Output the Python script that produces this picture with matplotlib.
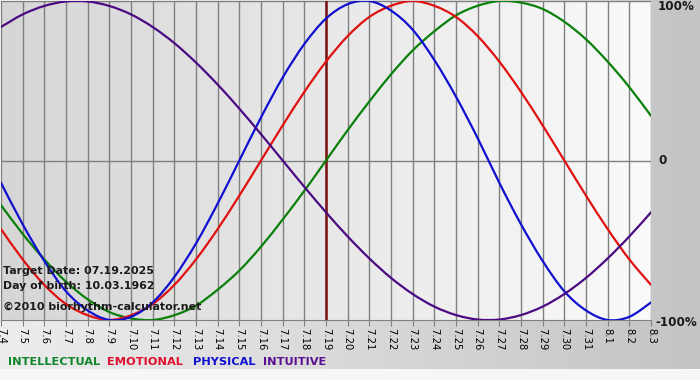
import numpy as np
import matplotlib
matplotlib.use("Agg")
import matplotlib.pyplot as plt
from matplotlib.path import Path
from matplotlib.patches import PathPatch

# ---- data ----
dates = ["7.4", "7.5", "7.6", "7.7", "7.8", "7.9", "7.10", "7.11", "7.12", "7.13",
         "7.14", "7.15", "7.16", "7.17", "7.18", "7.19", "7.20", "7.21", "7.22", "7.23",
         "7.24", "7.25", "7.26", "7.27", "7.28", "7.29", "7.30", "7.31", "8.1", "8.2", "8.3"]
target_date = "7.19"

physical = [-0.14, -0.40, -0.63, -0.82, -0.94, -1.00, -0.98, -0.89, -0.73, -0.52,
            -0.27, 0.00, 0.27, 0.52, 0.73, 0.89, 0.98, 1.00, 0.94, 0.82,
            0.63, 0.40, 0.14, -0.14, -0.40, -0.63, -0.82, -0.94, -1.00, -0.98, -0.89]
emotional = [-0.43, -0.62, -0.78, -0.90, -0.97, -1.00, -0.97, -0.90, -0.78, -0.62,
             -0.43, -0.22, 0.00, 0.22, 0.43, 0.62, 0.78, 0.90, 0.97, 1.00,
             0.97, 0.90, 0.78, 0.62, 0.43, 0.22, 0.00, -0.22, -0.43, -0.62, -0.78]
intellectual = [-0.28, -0.46, -0.62, -0.76, -0.87, -0.95, -0.99, -1.00, -0.97, -0.91,
                -0.81, -0.69, -0.54, -0.37, -0.19, 0.00, 0.19, 0.37, 0.54, 0.69,
                0.81, 0.91, 0.97, 1.00, 0.99, 0.95, 0.87, 0.76, 0.62, 0.46, 0.28]
intuitive = [0.837, 0.916, 0.969, 0.997, 0.997, 0.969, 0.916, 0.837, 0.736, 0.614,
             0.476, 0.325, 0.165, 0.00, -0.165, -0.325, -0.476, -0.614, -0.736, -0.837,
             -0.916, -0.969, -0.997, -0.997, -0.969, -0.916, -0.837, -0.736, -0.614, -0.476, -0.325]

series_names = ["INTELLECTUAL", "EMOTIONAL", "PHYSICAL", "INTUITIVE"]
series_colors = ["#0a800a", "#e01010", "#1010d0", "#4b0a82"]
legend_colors = ["#10862a", "#e01030", "#1010d0", "#5a1090"]

y_labels = ["100%", "0", "-100%"]
info_lines = ["Target Date: 07.19.2025", "Day of birth: 10.03.1962", "\u00a92010 biorhythm-calculator.net"]

W, H = 700, 380
fig = plt.figure(figsize=(7, 3.8), dpi=100)

# figure background gradient
bg = fig.add_axes([0, 0, 1, 1], zorder=-10)
bg.set_axis_off()
grad = np.linspace(0, 1, 256)
cl = np.array([0.93, 0.93, 0.93])
cr = np.array([0.77, 0.77, 0.77])
img = cl[None, None, :] * (1 - grad[None, :, None]) + cr[None, None, :] * grad[None, :, None]
bg.imshow(img, extent=[0, 1, 0, 1], aspect="auto", transform=bg.transAxes)
bg.add_patch(plt.Rectangle((0, 0), 1, 11 / H, transform=bg.transAxes,
                           facecolor="#f6f6f6", edgecolor="none", zorder=2))
bg.set_xlim(0, 1)
bg.set_ylim(0, 1)

# main axes
x0px, x1px = 1, 651
ytop, ybot = 1, 320
ax = fig.add_axes([x0px / W, 1 - ybot / H, (x1px - x0px) / W, (ybot - ytop) / H])
x = np.arange(len(dates))
ax.set_xlim(0, len(dates) - 1)
ax.set_ylim(-1.0, 1.0)

pl = np.array([0.84, 0.84, 0.84])
pr = np.array([0.98, 0.98, 0.98])
pimg = pl[None, None, :] * (1 - grad[None, :, None]) + pr[None, None, :] * grad[None, :, None]
ax.imshow(pimg, extent=[0, len(dates) - 1, -1, 1], aspect="auto", zorder=0)

for xi in x:
    ax.axvline(xi, color="#808080", lw=1.0, zorder=1)
ax.axhline(0, color="#808080", lw=1.0, zorder=1)
ax.axhline(1, color="#808080", lw=1.0, zorder=1)

ax.axvline(dates.index(target_date), color="#7a1010", lw=1.8, zorder=2)


def smooth_path(xs, ys):
    """Catmull-Rom curve through the data points as cubic Bezier segments."""
    xs = np.asarray(xs, float)
    ys = np.asarray(ys, float)
    pts = np.column_stack([xs, ys])
    n = len(pts)
    verts = [pts[0]]
    codes = [Path.MOVETO]
    for i in range(n - 1):
        p0 = pts[i - 1] if i > 0 else pts[i]
        p1 = pts[i]
        p2 = pts[i + 1]
        p3 = pts[i + 2] if i + 2 < n else pts[i + 1]
        c1 = p1 + (p2 - p0) / 6.0
        c2 = p2 - (p3 - p1) / 6.0
        verts += [c1, c2, p2]
        codes += [Path.CURVE4] * 3
    return Path(verts, codes)


data = [intellectual, emotional, physical, intuitive]
for vals, c in zip(data, series_colors):
    patch = PathPatch(smooth_path(x, vals), facecolor="none", edgecolor=c, lw=1.6,
                      zorder=3, capstyle="round", joinstyle="round")
    ax.add_patch(patch)

for s in ax.spines.values():
    s.set_visible(False)
ax.spines["bottom"].set_visible(True)
ax.spines["bottom"].set_color("#808080")

ax.set_xticks(x)
ax.set_xticklabels(dates, rotation=-90, fontsize=7.2, fontfamily="DejaVu Sans")
ax.tick_params(axis="x", length=4, color="#808080", pad=2)
ax.set_yticks([])

ys = [271, 286, 307]
for t, yy in zip(info_lines, ys):
    ax.text(3 / W, 1 - yy / H, t, transform=fig.transFigure, fontsize=7.9,
            fontweight="bold", color="#1a1a1a", va="center", ha="left", zorder=5)

for lab, yy, xx in zip(y_labels, [7, 161, 322], [658, 658, 655]):
    fig.text(xx / W, 1 - yy / H, lab, fontsize=8.6, fontweight="bold", color="#1a1a1a",
             va="center", ha="left")

lx = [8, 107, 193, 263]
for name, c, xx in zip(series_names, legend_colors, lx):
    fig.text(xx / W, 1 - 362 / H, name, fontsize=8.2, fontweight="bold", color=c,
             va="center", ha="left")

fig.savefig("out.png", dpi=100)
